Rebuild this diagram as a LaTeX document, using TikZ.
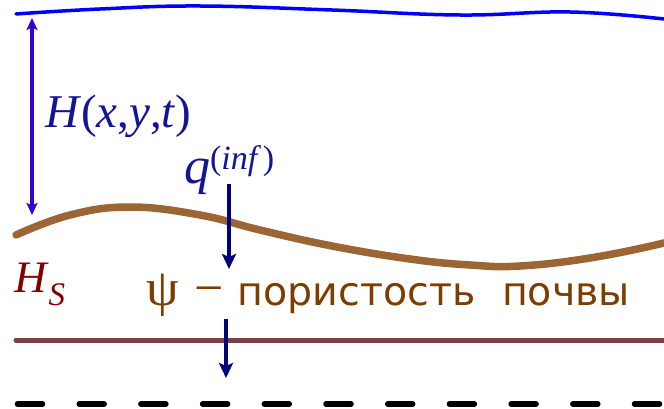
\documentclass[tikz,border=0pt]{standalone}
\usepackage{fontspec}
\setmainfont{Liberation Serif}
\newfontfamily\dejavu{DejaVu Sans}
\usetikzlibrary{arrows.meta}
\definecolor{topblue}{RGB}{0,0,250}
\definecolor{violetblue}{RGB}{55,0,210}
\definecolor{labelblue}{RGB}{20,20,150}
\definecolor{navyc}{RGB}{0,0,128}
\definecolor{soilbrown}{RGB}{155,102,52}
\definecolor{textbrown}{RGB}{125,60,0}
\definecolor{hsred}{RGB}{128,0,0}
\definecolor{layerline}{RGB}{120,66,62}
\tikzset{
  lbl/.style={anchor=base west, inner sep=0pt, outer sep=0pt},
  navyarrow/.style={draw=navyc, line width=3.8pt, -{Stealth[length=15pt,width=14pt,inset=3pt]}},
  heightarrow/.style={draw=violetblue, line width=3.2pt, {Stealth[length=12pt,width=11pt,inset=2.5pt]}-{Stealth[length=12pt,width=11pt,inset=2.5pt]}}
}
\begin{document}
\begin{tikzpicture}[x=1pt,y=-1pt]
\useasboundingbox (0,0) rectangle (664,409);
% water surface
\draw[topblue, line width=3.5pt, line cap=round] plot[smooth, tension=0.7] coordinates {(16,14) (100,9) (200,6) (332,10) (460,15) (570,12) (664,19)};
% soil surface
\draw[soilbrown, line width=7.5pt, line cap=round] plot[smooth, tension=0.7] coordinates {(16,235) (70,215) (130,207) (200,215) (260,230) (332,246) (410,259) (470,265) (520,266) (590,258) (664,243) (680,237)};
% layer line
\coordinate (ll) at (16,340);
\coordinate (lr) at (664,340);
\draw[layerline, line width=5pt, line cap=round] (ll) -- (lr);
% dashed bottom
\coordinate (dl) at (17.5,404);
\coordinate (dr) at (664,404);
\draw[black, line width=5.5pt, line cap=round, dash pattern=on 25pt off 36.7pt] (dl) -- (dr);
% height arrow
\coordinate (ht) at (32,18);
\coordinate (hb) at (32,215);
\draw[heightarrow] (hb) -- (ht);
% labels
\node[lbl, text=labelblue, font=\fontsize{47}{50}\selectfont] (hlabel) at (45,128) {\textit{H}(\textit{x},\textit{y},\textit{t})};
\node[lbl, text=labelblue, font=\fontsize{52}{56}\selectfont] (qlabel) at (184,183) {\textit{q}\raisebox{14pt}{\fontsize{34}{36}\selectfont(\textit{inf\,})}};
\node[lbl, text=hsred, font=\fontsize{45}{50}\selectfont] (hs) at (14,292) {\textit{H}\raisebox{-13pt}{\fontsize{33}{35}\selectfont\textit{S}}};
\node[lbl, text=textbrown] (psi) at (146,305) {{\fontsize{52}{56}\selectfont ψ\hspace{3pt} − \hspace{1pt}}{\dejavu\fontsize{39.5}{44}\selectfont пористость\hspace{14pt} почвы}};
% flux arrows
\coordinate (q1a) at (229,184);
\coordinate (q1b) at (229,269);
\draw[navyarrow] (q1a) -- (q1b);
\coordinate (q2a) at (226,319);
\coordinate (q2b) at (226,378);
\draw[navyarrow] (q2a) -- (q2b);
\end{tikzpicture}
\end{document}
